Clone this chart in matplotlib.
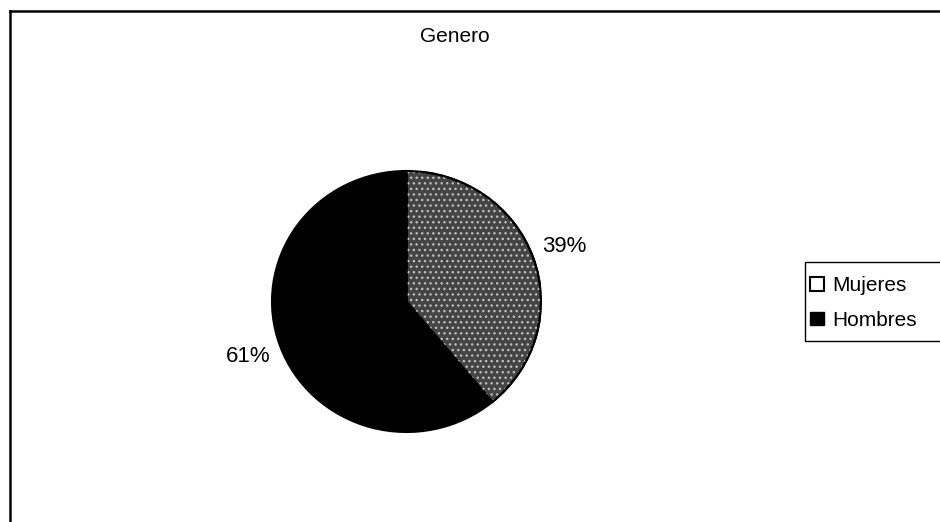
import numpy as np
import matplotlib
matplotlib.use("Agg")
import matplotlib.pyplot as plt
from matplotlib.lines import Line2D
from matplotlib.patches import Patch, Rectangle, Wedge

plt.rcParams['font.family'] = ['Liberation Sans', 'DejaVu Sans']

# datos de la encuesta
categorias = ["Mujeres", "Hombres"]
porcentajes = [39, 61]
colores = ["#444444", "#000000"]

W, H = 940, 522
fig = plt.figure(figsize=(W / 100, H / 100), dpi=100)

# centro y radios del pastel en pixeles
cx, cy, rx, ry = 406.5, 301.5, 134.5, 130.5
ax = fig.add_axes([(cx - rx) / W, (H - cy - ry) / H, 2 * rx / W, 2 * ry / H])

wedges, texts, autotexts = ax.pie(
    porcentajes,
    colors=colores,
    startangle=90,
    counterclock=False,
    autopct="%d%%",
    pctdistance=1.25,
    wedgeprops=dict(edgecolor="black", linewidth=1.5),
    textprops=dict(fontsize=16, color="black"),
)
# puntos claros encima de la porcion gris
w0 = wedges[0]
moteado = Wedge(w0.center, w0.r, w0.theta1, w0.theta2, facecolor="none",
                edgecolor="#bdbdbd", hatch="...", linewidth=0)
ax.add_patch(moteado)
contorno = Wedge(w0.center, w0.r, w0.theta1, w0.theta2, facecolor="none",
                 edgecolor="black", linewidth=1.5)
ax.add_patch(contorno)

ax.set_xlim(-1, 1)
ax.set_ylim(-1, 1)
ax.set_aspect("auto")
ax.axis("off")

fig.text(455 / W, 1 - 36 / H, "Genero", ha="center", va="center", fontsize=15)

# marco del grafico
fig.add_artist(Line2D([10 / W, 1], [1 - 11 / H, 1 - 11 / H], color="black", lw=1.8))
fig.add_artist(Line2D([10 / W, 10 / W], [1 - 11 / H, 0], color="black", lw=1.8))

# leyenda, con el recuadro saliendo por la derecha
fig.add_artist(Rectangle((805 / W, 1 - 341 / H), 150 / W, 79 / H,
                         transform=fig.transFigure, facecolor="white",
                         edgecolor="black", linewidth=1.0))
handles = [Patch(facecolor="white", edgecolor="black", linewidth=1.5),
           Patch(facecolor="black", edgecolor="black")]
leg = fig.legend(handles, categorias, loc="center left",
                 bbox_to_anchor=(810 / W, 1 - 303 / H), fontsize=15,
                 frameon=False, handlelength=0.65, handleheight=0.65,
                 handletextpad=0.4, borderpad=0, labelspacing=0.75,
                 borderaxespad=0)

fig.savefig("out.png", dpi=100, facecolor="white")
